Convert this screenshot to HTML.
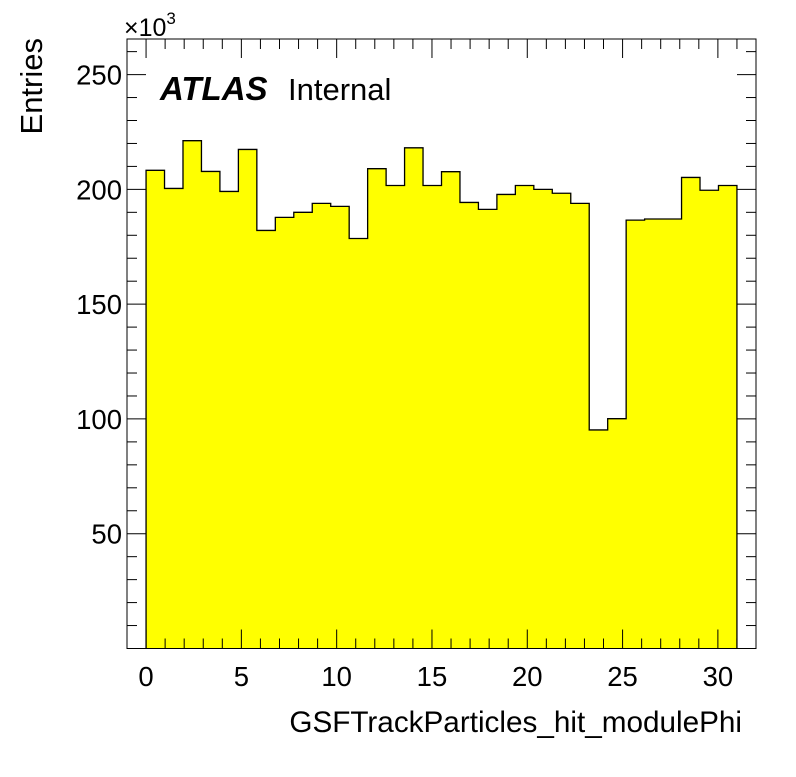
<!DOCTYPE html>
<html><head><meta charset="utf-8"><style>
body{margin:0;background:#fff;}
svg text{font-family:"Liberation Sans",Arial,sans-serif;fill:#000;}
</style></head><body>
<svg id="chart" width="796" height="772" xmlns="http://www.w3.org/2000/svg">
<g id="hist"></g>
<g id="axes"></g>
<rect x="127" y="39" width="629" height="609.5" fill="none" stroke="#000" stroke-width="1"/>
<text transform="translate(42,38) rotate(-90)" text-anchor="end" font-size="31">Entries</text>
<text x="742" y="732" text-anchor="end" font-size="29.7">GSFTrackParticles_hit_modulePhi</text>
<text x="124" y="36" font-size="25">×10<tspan font-size="17" dy="-12">3</tspan></text>
<text x="160" y="100" font-size="33" font-weight="bold" font-style="italic">ATLAS</text>
<text x="288" y="100" font-size="31">Internal</text>
</svg>
<script>
const binLow = 0, binHigh = 31;
const values = [208.3,200.4,221.2,207.8,199.1,217.4,182.1,187.8,190.0,193.9,192.6,178.6,209.0,201.7,218.1,201.7,207.7,194.3,191.3,197.8,201.7,200.0,198.3,193.9,95.2,100.1,186.6,187.1,187.1,205.2,199.6,201.7];
const xTicks = [0,5,10,15,20,25,30];
const yTicks = [50,100,150,200,250];
const X0=127, X1=756, Y0=648.5, Y1=39;
const xMin=-1, xMax=32, yMin=0, yMax=265.5;
const sx = v => X0 + (v - xMin) / (xMax - xMin) * (X1 - X0);
const sy = v => Y0 - (v - yMin) / (yMax - yMin) * (Y0 - Y1);
const NS="http://www.w3.org/2000/svg";
function mk(tag, attrs, parent){const e=document.createElementNS(NS,tag);for(const k in attrs)e.setAttribute(k,attrs[k]);parent.appendChild(e);return e;}
const hist=document.getElementById('hist'), axes=document.getElementById('axes');
const w=(binHigh-binLow)/values.length;
let d='M'+sx(binLow)+','+sy(0);
values.forEach((v,i)=>{
  const r=mk('rect',{x:sx(binLow+i*w),y:sy(v),width:sx(binLow+(i+1)*w)-sx(binLow+i*w)+0.5,height:sy(0)-sy(v),fill:'#ffff00'},hist);
  
  
  d+=' L'+sx(binLow+i*w)+','+sy(v)+' L'+sx(binLow+(i+1)*w)+','+sy(v);
});
d+=' L'+sx(binHigh)+','+sy(0);
const outline=mk('path',{d:d,fill:'none',stroke:'#000','stroke-width':1.3},hist);


for(let t=-1;t<=32;t++){
  const major=t%5===0, L=major?19:10;
  mk('line',{x1:sx(t),x2:sx(t),y1:Y0,y2:Y0-L,stroke:'#000'},axes);
  mk('line',{x1:sx(t),x2:sx(t),y1:Y1,y2:Y1+L,stroke:'#000'},axes);
}
xTicks.forEach(t=>{
  const tx=mk('text',{x:sx(t),y:686,'text-anchor':'middle','font-size':27.5},axes);
  
  
  tx.textContent=t;
});
for(let t=10;t<=260;t+=10){
  const major=t%50===0, L=major?19:10;
  mk('line',{x1:X0,x2:X0+L,y1:sy(t),y2:sy(t),stroke:'#000'},axes);
  mk('line',{x1:X1,x2:X1-L,y1:sy(t),y2:sy(t),stroke:'#000'},axes);
}
yTicks.forEach(t=>{
  const tx=mk('text',{x:122,y:sy(t)+10,'text-anchor':'end','font-size':27.5},axes);
  
  
  tx.textContent=t;
});
</script>
</body></html>
